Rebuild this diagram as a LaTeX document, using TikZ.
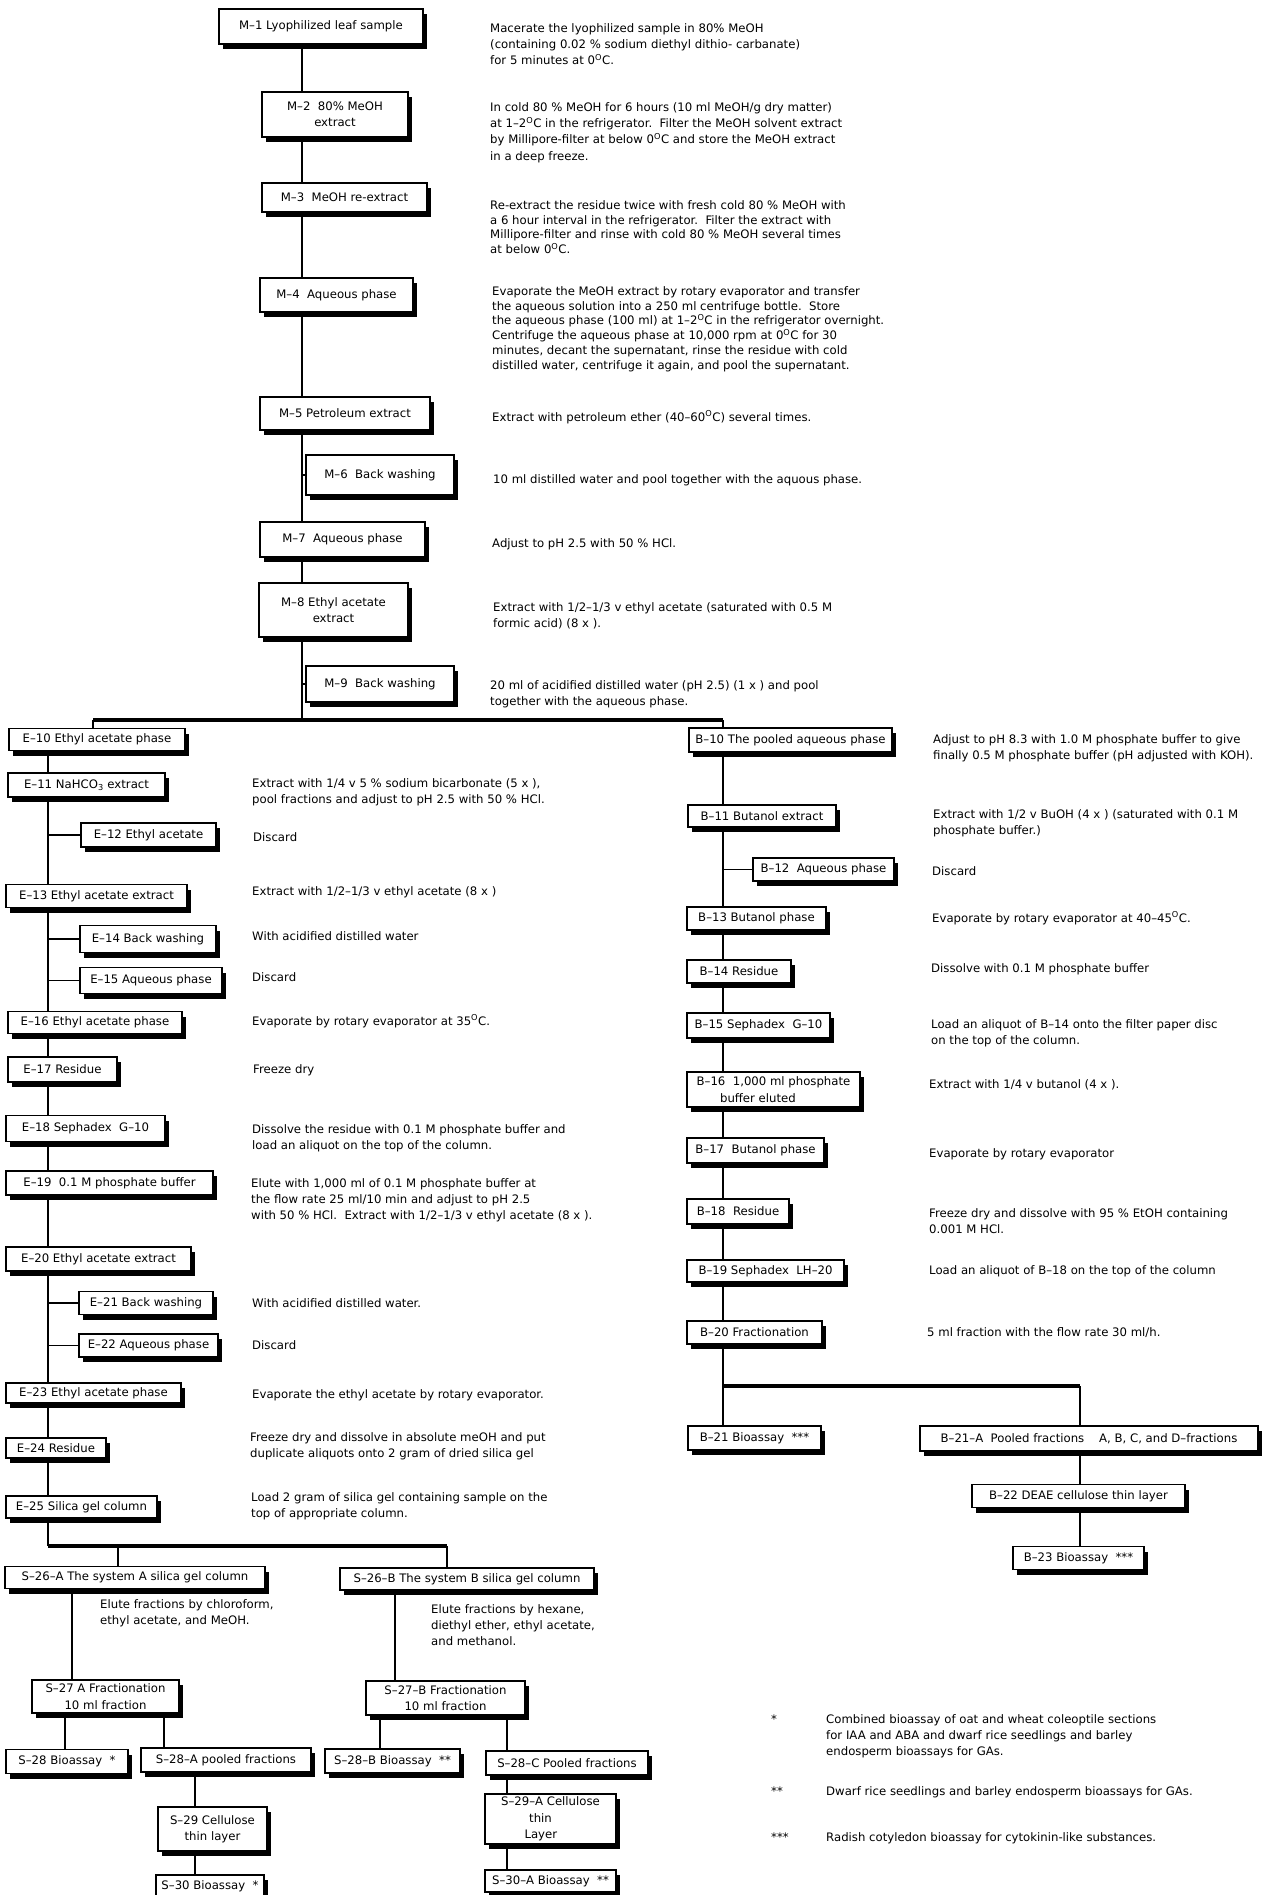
\documentclass[tikz,border=0pt]{standalone}
\usepackage{fontspec}
\setmainfont{DejaVu Sans}
\usetikzlibrary{shadows,backgrounds}
\newcommand{\dgc}{\textsuperscript{O}C}
\newcommand{\firstln}{\rule{0pt}{11pt}}
\begin{document}
\begin{tikzpicture}[x=1pt,y=-1pt,
  every node/.style={font=\fontsize{11.7pt}{16.3pt}\selectfont},
  bx/.style={draw, line width=1.2pt, fill=white, inner sep=2pt, align=center,
    general shadow={fill=black, shadow xshift=4pt, shadow yshift=-5pt}},
  ds/.style={anchor=north west, inner sep=0pt, align=left},
  tight/.style={font=\fontsize{11.7pt}{14.8pt}\selectfont},
  ln/.style={line width=1.8pt},
  barln/.style={line width=4pt}]
\begin{scope}[on background layer]
\fill[white] (0,0) rectangle (1271,1895);
\end{scope}
\useasboundingbox (0,0) rectangle (1271,1895);

% ---------------- main column ----------------
\node[bx, minimum width=204pt, minimum height=35pt] (m1) at (321,26.5) {M--1 Lyophilized leaf sample};
\node[bx, minimum width=146pt, minimum height=45pt] (m2) at (335,114.5) {M--2\ \ 80\% MeOH\\extract};
\node[bx, minimum width=165pt, minimum height=29pt] (m3) at (344.5,197.5) {M--3\ \ MeOH re-extract};
\node[bx, minimum width=153pt, minimum height=34pt] (m4) at (336.5,295) {M--4\ \ Aqueous phase};
\node[bx, minimum width=170pt, minimum height=33pt] (m5) at (345,413.5) {M--5 Petroleum extract};
\node[bx, minimum width=148pt, minimum height=40pt] (m6) at (380,475) {M--6\ \ Back washing};
\node[bx, minimum width=165pt, minimum height=35pt] (m7) at (342.5,539.5) {M--7\ \ Aqueous phase};
\node[bx, minimum width=149pt, minimum height=54pt] (m8) at (333.5,610) {M--8 Ethyl acetate\\extract};
\node[bx, minimum width=148pt, minimum height=36pt] (m9) at (380,684) {M--9\ \ Back washing};

\node[ds] (dm1) at (490,21) {\firstln Macerate the lyophilized sample in 80\% MeOH\\(containing 0.02 \% sodium diethyl dithio- carbanate)\\for 5 minutes at 0\dgc.};
\node[ds] (dm2) at (490,100) {\firstln In cold 80 \% MeOH for 6 hours (10 ml MeOH/g dry matter)\\at 1--2\dgc\ in the refrigerator.\ \ Filter the MeOH solvent extract\\by Millipore-filter at below 0\dgc\ and store the MeOH extract\\in a deep freeze.};
\node[ds, tight] (dm3) at (490,198) {\firstln Re-extract the residue twice with fresh cold 80 \% MeOH with\\a 6 hour interval in the refrigerator.\ \ Filter the extract with\\Millipore-filter and rinse with cold 80 \% MeOH several times\\at below 0\dgc.};
\node[ds, tight] (dm4) at (492,284) {\firstln Evaporate the MeOH extract by rotary evaporator and transfer\\the aqueous solution into a 250 ml centrifuge bottle.\ \ Store\\the aqueous phase (100 ml) at 1--2\dgc\ in the refrigerator overnight.\\Centrifuge the aqueous phase at 10,000 rpm at 0\dgc\ for 30\\minutes, decant the supernatant, rinse the residue with cold\\distilled water, centrifuge it again, and pool the supernatant.};
\node[ds] (dm5) at (492,410) {\firstln Extract with petroleum ether (40--60\dgc) several times.};
\node[ds] (dm6) at (493,472) {\firstln 10 ml distilled water and pool together with the aquous phase.};
\node[ds] (dm7) at (492,536) {\firstln Adjust to pH 2.5 with 50 \% HCl.};
\node[ds] (dm8) at (493,600) {\firstln Extract with 1/2--1/3 v ethyl acetate (saturated with 0.5 M\\formic acid) (8 x ).};
\node[ds] (dm9) at (490,678) {\firstln 20 ml of acidified distilled water (pH 2.5) (1 x ) and pool\\together with the aqueous phase.};

% ---------------- E column ----------------
\node[bx, minimum width=176pt, minimum height=22pt] (e10) at (97,739.5) {E--10 Ethyl acetate phase};
\node[bx, minimum width=157pt, minimum height=24pt] (e11) at (86.5,785) {E--11 NaHCO\textsubscript{3} extract};
\node[bx, minimum width=135pt, minimum height=24pt] (e12) at (148.5,835) {E--12 Ethyl acetate};
\node[bx, minimum width=181pt, minimum height=23pt] (e13) at (96.5,896) {E--13 Ethyl acetate extract};
\node[bx, minimum width=136pt, minimum height=27pt] (e14) at (148,939) {E--14 Back washing};
\node[bx, minimum width=142pt, minimum height=26pt] (e15) at (151,980.5) {E--15 Aqueous phase};
\node[bx, minimum width=174pt, minimum height=22pt] (e16) at (95,1022.5) {E--16 Ethyl acetate phase};
\node[bx, minimum width=109pt, minimum height=25pt] (e17) at (62.5,1069.5) {E--17 Residue};
\node[bx, minimum width=159pt, minimum height=26pt] (e18) at (85.5,1128.5) {E--18 Sephadex\ \ G--10};
\node[bx, minimum width=207pt, minimum height=24pt] (e19) at (109.5,1183) {E--19\ \ 0.1 M phosphate buffer};
\node[bx, minimum width=185pt, minimum height=24pt] (e20) at (98.5,1259) {E--20 Ethyl acetate extract};
\node[bx, minimum width=134pt, minimum height=23pt] (e21) at (146,1303) {E--21 Back washing};
\node[bx, minimum width=139pt, minimum height=23pt] (e22) at (148.5,1345.5) {E--22 Aqueous phase};
\node[bx, minimum width=175pt, minimum height=20pt] (e23) at (93.5,1393) {E--23 Ethyl acetate phase};
\node[bx, minimum width=100pt, minimum height=20pt] (e24) at (56,1448) {E--24 Residue};
\node[bx, minimum width=151pt, minimum height=22pt] (e25) at (81.5,1507) {E--25 Silica gel column};

\node[ds] (de11) at (252,776) {\firstln Extract with 1/4 v 5 \% sodium bicarbonate (5 x ),\\pool fractions and adjust to pH 2.5 with 50 \% HCl.};
\node[ds] (de12) at (253,830) {\firstln Discard};
\node[ds] (de13) at (252,884) {\firstln Extract with 1/2--1/3 v ethyl acetate (8 x )};
\node[ds] (de14) at (252,929) {\firstln With acidified distilled water};
\node[ds] (de15) at (252,970) {\firstln Discard};
\node[ds] (de16) at (252,1014) {\firstln Evaporate by rotary evaporator at 35\dgc.};
\node[ds] (de17) at (253,1062) {\firstln Freeze dry};
\node[ds] (de18) at (252,1122) {\firstln Dissolve the residue with 0.1 M phosphate buffer and\\load an aliquot on the top of the column.};
\node[ds] (de19) at (251,1176) {\firstln Elute with 1,000 ml of 0.1 M phosphate buffer at\\the flow rate 25 ml/10 min and adjust to pH 2.5\\with 50 \% HCl.\ \ Extract with 1/2--1/3 v ethyl acetate (8 x ).};
\node[ds] (de21) at (252,1296) {\firstln With acidified distilled water.};
\node[ds] (de22) at (252,1338) {\firstln Discard};
\node[ds] (de23) at (252,1387) {\firstln Evaporate the ethyl acetate by rotary evaporator.};
\node[ds] (de24) at (250,1430) {\firstln Freeze dry and dissolve in absolute meOH and put\\duplicate aliquots onto 2 gram of dried silica gel};
\node[ds] (de25) at (251,1490) {\firstln Load 2 gram of silica gel containing sample on the\\top of appropriate column.};

% ---------------- S part ----------------
\node[bx, minimum width=260pt, minimum height=22pt] (s26a) at (135,1577.5) {S--26--A The system A silica gel column};
\node[bx, minimum width=254pt, minimum height=22pt] (s26b) at (467,1579) {S--26--B The system B silica gel column};
\node[ds] (ds26a) at (100,1597) {\firstln Elute fractions by chloroform,\\ethyl acetate, and MeOH.};
\node[ds] (ds26b) at (431,1602) {\firstln Elute fractions by hexane,\\diethyl ether, ethyl acetate,\\and methanol.};
\node[bx, minimum width=147pt, minimum height=33pt] (s27a) at (105.5,1696.5) {S--27 A Fractionation\\10 ml fraction};
\node[bx, minimum width=159pt, minimum height=34pt] (s27b) at (445.5,1698) {S--27--B Fractionation\\10 ml fraction};
\node[bx, minimum width=122pt, minimum height=24pt] (s28) at (67,1761.5) {S--28 Bioassay\ \ *};
\node[bx, minimum width=170pt, minimum height=24pt] (s28a) at (226,1760) {S--28--A pooled fractions};
\node[bx, minimum width=135pt, minimum height=24pt] (s28b) at (392.5,1761) {S--28--B Bioassay\ \ **};
\node[bx, minimum width=162pt, minimum height=24pt] (s28c) at (567,1763) {S--28--C Pooled fractions};
\node[bx, minimum width=109pt, minimum height=44pt] (s29) at (212.5,1829) {S--29 Cellulose\\thin layer};
\node[bx, minimum width=131pt, minimum height=50pt, align=left] (s29a) at (550.5,1819) {S--29--A Cellulose\\\hspace*{2.4em}thin\\\hspace*{2em}Layer};
\node[bx, minimum width=108pt, minimum height=22pt] (s30) at (210,1886) {S--30 Bioassay\ \ *};
\node[bx, minimum width=131pt, minimum height=22pt] (s30a) at (550.5,1881) {S--30--A Bioassay\ \ **};

% ---------------- B column ----------------
\node[bx, minimum width=203pt, minimum height=24pt] (b10) at (790.5,740) {B--10 The pooled aqueous phase};
\node[bx, minimum width=148pt, minimum height=22pt] (b11) at (762,816) {B--11 Butanol extract};
\node[bx, minimum width=141pt, minimum height=23pt] (b12) at (823.5,869.5) {B--12\ \ Aqueous phase};
\node[bx, minimum width=139pt, minimum height=23pt] (b13) at (756.5,918.5) {B--13 Butanol phase};
\node[bx, minimum width=104pt, minimum height=23pt] (b14) at (739,971.5) {B--14 Residue};
\node[bx, minimum width=143pt, minimum height=25pt] (b15) at (758.5,1025.5) {B--15 Sephadex\ \ G--10};
\node[bx, minimum width=173pt, minimum height=35pt, align=left] (b16) at (773.5,1089.5) {B--16\ \ 1,000 ml phosphate\\\hspace*{2em}buffer eluted};
\node[bx, minimum width=137pt, minimum height=25pt] (b17) at (755.5,1150.5) {B--17\ \ Butanol phase};
\node[bx, minimum width=102pt, minimum height=25pt] (b18) at (738,1211.5) {B--18\ \ Residue};
\node[bx, minimum width=157pt, minimum height=22pt] (b19) at (765.5,1271) {B--19 Sephadex\ \ LH--20};
\node[bx, minimum width=135pt, minimum height=23pt] (b20) at (754.5,1332.5) {B--20 Fractionation};
\node[bx, minimum width=133pt, minimum height=24pt] (b21) at (754.5,1438) {B--21 Bioassay\ \ ***};
\node[bx, minimum width=338pt, minimum height=25pt] (b21a) at (1089,1438.5) {B--21--A\ \ Pooled fractions\ \ \ \ A, B, C, and D--fractions};
\node[bx, minimum width=213pt, minimum height=23pt] (b22) at (1078.5,1496) {B--22 DEAE cellulose thin layer};
\node[bx, minimum width=131pt, minimum height=23pt] (b23) at (1078.5,1558) {B--23 Bioassay\ \ ***};

\node[ds] (db10) at (933,732) {\firstln Adjust to pH 8.3 with 1.0 M phosphate buffer to give\\finally 0.5 M phosphate buffer (pH adjusted with KOH).};
\node[ds] (db11) at (933,807) {\firstln Extract with 1/2 v BuOH (4 x ) (saturated with 0.1 M\\phosphate buffer.)};
\node[ds] (db12) at (932,864) {\firstln Discard};
\node[ds] (db13) at (932,911) {\firstln Evaporate by rotary evaporator at 40--45\dgc.};
\node[ds] (db14) at (931,961) {\firstln Dissolve with 0.1 M phosphate buffer};
\node[ds] (db15) at (931,1017) {\firstln Load an aliquot of B--14 onto the filter paper disc\\on the top of the column.};
\node[ds] (db16) at (929,1077) {\firstln Extract with 1/4 v butanol (4 x ).};
\node[ds] (db17) at (929,1146) {\firstln Evaporate by rotary evaporator};
\node[ds] (db18) at (929,1206) {\firstln Freeze dry and dissolve with 95 \% EtOH containing\\0.001 M HCl.};
\node[ds] (db19) at (929,1263) {\firstln Load an aliquot of B--18 on the top of the column};
\node[ds] (db20) at (927,1325) {\firstln 5 ml fraction with the flow rate 30 ml/h.};

% ---------------- footnotes ----------------
\node[ds] (f1s) at (771,1712) {\firstln *};
\node[ds] (f1) at (826,1712) {\firstln Combined bioassay of oat and wheat coleoptile sections\\for IAA and ABA and dwarf rice seedlings and barley\\endosperm bioassays for GAs.};
\node[ds] (f2s) at (771,1784) {\firstln **};
\node[ds] (f2) at (826,1784) {\firstln Dwarf rice seedlings and barley endosperm bioassays for GAs.};
\node[ds] (f3s) at (771,1830) {\firstln ***};
\node[ds] (f3) at (826,1830) {\firstln Radish cotyledon bioassay for cytokinin-like substances.};

% ---------------- connectors ----------------
\coordinate (mx) at (302,0);
\coordinate (tbl) at (93,720);
\coordinate (tbm) at (302,720);
\coordinate (tbr) at (723,720);
\coordinate (ex) at (48,0);
\coordinate (lbl) at (48,1546);
\coordinate (lba) at (118,1546);
\coordinate (lbr) at (447,1546);
\coordinate (xa) at (72,0);
\coordinate (xb) at (65,0);
\coordinate (xc) at (164,0);
\coordinate (xd) at (195,0);
\coordinate (xe) at (395,0);
\coordinate (xf) at (380,0);
\coordinate (xg) at (507,0);
\coordinate (bbl) at (723,1386);
\coordinate (bbr) at (1080,1386);

\begin{scope}[on background layer]
\draw[ln] (m1.south -| mx) -- (tbm);
\draw[ln] (m6.west -| mx) -- (m6.west);
\draw[ln] (m9.west -| mx) -- (m9.west);
\draw[barln] (tbl) -- (tbr);
\draw[ln] (tbl) -- (e10.north -| tbl);
\draw[ln] (e10.south -| ex) -- (lbl);
\foreach \n in {e12,e14,e15,e21,e22} \draw[ln] (\n.west -| ex) -- (\n.west);
\draw[barln] (lbl) -- (lbr);
\draw[ln] (lba) -- (s26a.north -| lba);
\draw[ln] (lbr) -- (s26b.north -| lbr);
\draw[ln] (s26a.south -| xa) -- (s27a.north -| xa);
\draw[ln] (s27a.south -| xb) -- (s28.north -| xb);
\draw[ln] (s27a.south -| xc) -- (s28a.north -| xc);
\draw[ln] (s28a.south -| xd) -- (s29.north -| xd);
\draw[ln] (s29.south -| xd) -- (s30.north -| xd);
\draw[ln] (s26b.south -| xe) -- (s27b.north -| xe);
\draw[ln] (s27b.south -| xf) -- (s28b.north -| xf);
\draw[ln] (s27b.south -| xg) -- (s28c.north -| xg);
\draw[ln] (s28c.south -| xg) -- (s29a.north -| xg);
\draw[ln] (s29a.south -| xg) -- (s30a.north -| xg);
\draw[ln] (tbr) -- (bbl);
\draw[ln] (b12.west -| tbr) -- (b12.west);
\draw[barln] (bbl) -- (bbr);
\draw[ln] (bbl) -- (b21.north -| bbl);
\draw[ln] (bbr) -- (b21a.north -| bbr);
\draw[ln] (b21a.south -| bbr) -- (b22.north -| bbr);
\draw[ln] (b22.south -| bbr) -- (b23.north -| bbr);
\end{scope}
\end{tikzpicture}
\end{document}
